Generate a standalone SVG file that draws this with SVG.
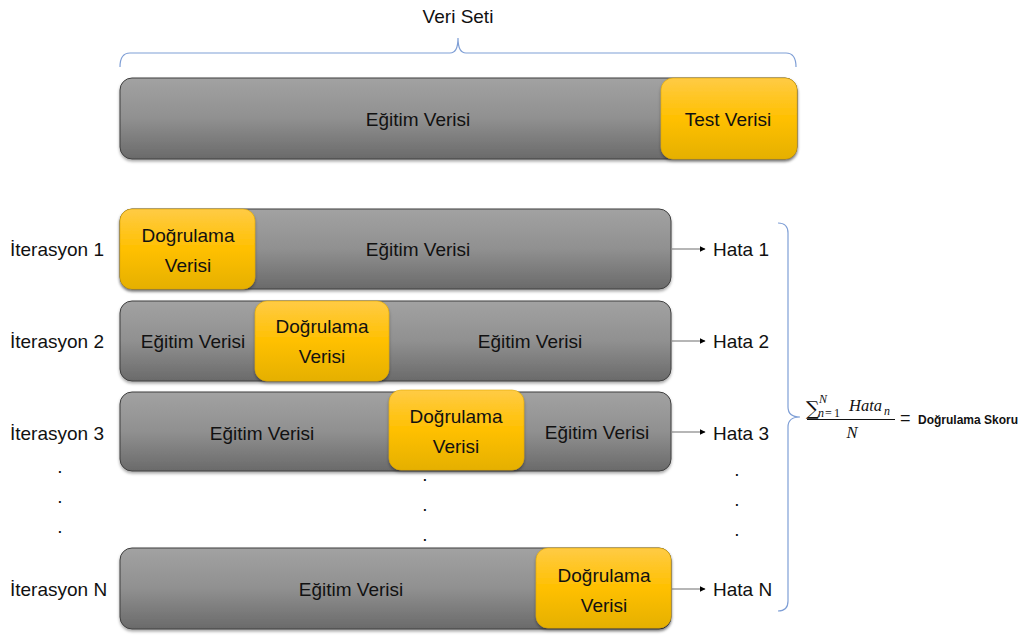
<svg xmlns="http://www.w3.org/2000/svg" width="1021" height="635" viewBox="0 0 1021 635">
  <style>
    text { font-family: "Liberation Sans", Arial, sans-serif; fill: #111; }
    .t { font-size: 19px; }
    .c { text-anchor: middle; }
    .bar { fill: url(#grayGrad); stroke: #3f3f3f; stroke-width: 1; filter: url(#shadow); }
    .val { fill: url(#goldGrad); stroke: #e0aa00; stroke-width: 0.6; filter: url(#shadow); }
    .brace { fill: none; stroke: #7f9fd6; stroke-width: 1.2; }
    .conn { stroke: #6f6f6f; stroke-width: 1.2; fill: none; marker-end: url(#arrow); }
    .math { font-family: "Liberation Serif", "DejaVu Serif", serif; font-style: italic; }
    .sub { font-family: "Liberation Serif", "DejaVu Serif", serif; font-size: 12px; }
    .dot { font-size: 19px; text-anchor: middle; }
  </style>
  <defs>
    <linearGradient id="grayGrad" x1="0" y1="0" x2="0" y2="1">
      <stop offset="0" stop-color="#a2a2a2"/>
      <stop offset="0.5" stop-color="#909090"/>
      <stop offset="1" stop-color="#6a6a6a"/>
    </linearGradient>
    <linearGradient id="goldGrad" x1="0" y1="0" x2="0" y2="1">
      <stop offset="0" stop-color="#ffcb45"/>
      <stop offset="0.5" stop-color="#ffc000"/>
      <stop offset="1" stop-color="#e5b000"/>
    </linearGradient>
    <filter id="shadow" x="-5%" y="-10%" width="110%" height="130%">
      <feDropShadow dx="0" dy="2" stdDeviation="1.6" flood-color="#000" flood-opacity="0.35"/>
    </filter>
    <marker id="arrow" viewBox="0 0 10 10" refX="9" refY="5" markerWidth="6" markerHeight="6" markerUnits="userSpaceOnUse" orient="auto">
      <path d="M0,0 L10,5 L0,10 z" fill="#000"/>
    </marker>
  </defs>

  <!-- whole data set -->
  <g id="dataset">
    <text class="t c" x="458" y="23">Veri Seti</text>
    <path class="brace" d="M120,67 Q120,53 130,53 L450,53 Q458,53 458,38 Q458,53 466,53 L786,53 Q796,53 796,67"/>
    <rect class="bar" x="120" y="78" width="677" height="81" rx="12"/>
    <text class="t c" x="418" y="126">Eğitim Verisi</text>
  </g>
  <g id="test">
    <rect class="val" x="661" y="78" width="136" height="81" rx="12"/>
    <text class="t c" x="728" y="126">Test Verisi</text>
  </g>

  <!-- iteration 1 -->
  <g id="iter1">
    <text class="t" x="10" y="256">İterasyon 1</text>
    <rect class="bar" x="120" y="209" width="551" height="80" rx="12"/>
    <text class="t c" x="418" y="256">Eğitim Verisi</text>
    <rect class="val" x="120" y="209" width="135" height="80" rx="12"/>
    <text class="t c" x="188" y="242">Doğrulama</text>
    <text class="t c" x="188" y="272">Verisi</text>
  </g>
  <g id="hata1"><text class="t" x="713" y="256">Hata 1</text></g>

  <!-- iteration 2 -->
  <g id="iter2">
    <text class="t" x="10" y="348">İterasyon 2</text>
    <rect class="bar" x="120" y="301" width="551" height="80" rx="12"/>
    <text class="t c" x="193" y="348">Eğitim Verisi</text>
    <text class="t c" x="530" y="348">Eğitim Verisi</text>
    <rect class="val" x="255" y="301" width="134" height="80" rx="12"/>
    <text class="t c" x="322" y="333">Doğrulama</text>
    <text class="t c" x="322" y="363">Verisi</text>
  </g>
  <g id="hata2"><text class="t" x="713" y="348">Hata 2</text></g>

  <!-- iteration 3 -->
  <g id="iter3">
    <text class="t" x="10" y="440">İterasyon 3</text>
    <rect class="bar" x="120" y="392" width="551" height="79" rx="12"/>
    <text class="t c" x="262" y="440">Eğitim Verisi</text>
    <text class="t c" x="597" y="439">Eğitim Verisi</text>
    <rect class="val" x="389" y="390" width="135" height="80" rx="12"/>
    <text class="t c" x="456" y="423">Doğrulama</text>
    <text class="t c" x="456" y="453">Verisi</text>
  </g>
  <g id="hata3"><text class="t" x="713" y="440">Hata 3</text></g>

  <!-- omitted iterations -->
  <g id="ellipsis">
    <text class="dot" x="60" y="473">.</text>
    <text class="dot" x="60" y="503">.</text>
    <text class="dot" x="60" y="533">.</text>
    <text class="dot" x="425" y="481">.</text>
    <text class="dot" x="425" y="511">.</text>
    <text class="dot" x="425" y="541">.</text>
    <text class="dot" x="737" y="476">.</text>
    <text class="dot" x="737" y="506">.</text>
    <text class="dot" x="737" y="536">.</text>
  </g>

  <!-- iteration N -->
  <g id="iterN">
    <text class="t" x="10" y="596">İterasyon N</text>
    <rect class="bar" x="120" y="548" width="551" height="81" rx="12"/>
    <text class="t c" x="351" y="596">Eğitim Verisi</text>
    <rect class="val" x="536" y="548" width="135" height="80" rx="12"/>
    <text class="t c" x="604" y="582">Doğrulama</text>
    <text class="t c" x="604" y="612">Verisi</text>
  </g>
  <g id="hataN"><text class="t" x="713" y="596">Hata N</text></g>

  <!-- error to score -->
  <g id="connectors">
    <line class="conn" x1="672" y1="249" x2="705" y2="249"/>
    <line class="conn" x1="672" y1="341" x2="705" y2="341"/>
    <line class="conn" x1="672" y1="432" x2="705" y2="432"/>
    <line class="conn" x1="672" y1="589" x2="705" y2="589"/>
    <path class="brace" d="M778,223 Q788,223 788,233 L788,407 Q788,417 800,417 Q788,417 788,427 L788,601 Q788,611 778,611"/>
  </g>

  <!-- score formula -->
  <g id="score">
    <text x="806" y="415" style="font-family:'DejaVu Serif','Liberation Serif',serif;font-size:19px">∑</text>
    <text class="sub" x="819" y="403" font-style="italic">N</text>
    <text class="sub" x="818" y="417"><tspan font-style="italic">n</tspan><tspan x="825">=</tspan><tspan x="834">1</tspan></text>
    <text class="math" x="849" y="411" style="font-size:16.5px">Hata</text>
    <text class="sub" x="884" y="415" font-style="italic">n</text>
    <line x1="807" y1="419.5" x2="895" y2="419.5" stroke="#111" stroke-width="1"/>
    <text class="math" x="852" y="438" style="font-size:16.5px;text-anchor:middle">N</text>
    <text x="900" y="424" style="font-size:18px">=</text>
    <text x="918" y="424" style="font-size:12px;font-weight:bold">Doğrulama Skoru</text>
  </g>
</svg>
